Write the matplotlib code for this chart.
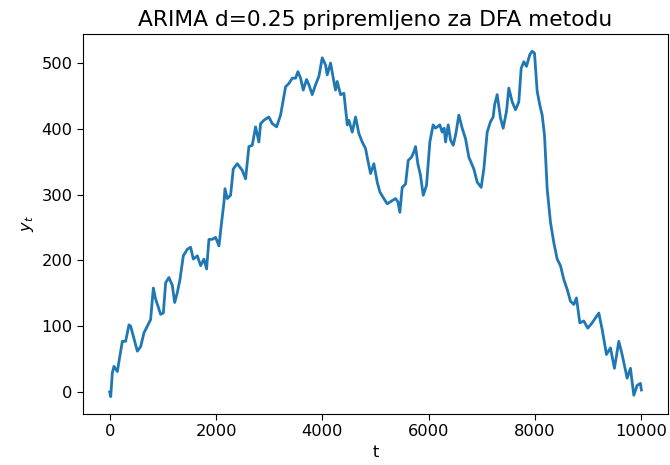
import matplotlib
matplotlib.use("Agg")
import matplotlib.pyplot as plt

# values (vertices of the trace)
t = [0, 20, 50, 81, 144, 175, 238, 300, 363, 395, 520, 583, 645, 739, 770,
     821, 865, 959, 1009, 1053, 1115, 1178, 1222, 1272, 1322, 1385, 1460,
     1522, 1573, 1648, 1711, 1773, 1823, 1867, 1930, 1992, 2055, 2105, 2149,
     2168, 2211, 2274, 2324, 2399, 2493, 2556, 2618, 2681, 2744, 2806, 2838,
     2900, 2994, 3057, 3139, 3214, 3308, 3371, 3434, 3496, 3540, 3590, 3640,
     3703, 3747, 3809, 3872, 3935, 3997, 4060, 4091, 4154, 4216, 4247, 4279,
     4342, 4405, 4468, 4499, 4561, 4624, 4686, 4749, 4812, 4855, 4906, 4968,
     5031, 5081, 5156, 5219, 5313, 5376, 5420, 5457, 5501, 5564, 5614, 5677,
     5720, 5752, 5795, 5846, 5896, 5958, 6021, 6083, 6127, 6208, 6252, 6290,
     6316, 6366, 6410, 6460, 6504, 6566, 6629, 6692, 6754, 6848, 6911, 6986,
     7036, 7099, 7162, 7212, 7237, 7287, 7350, 7400, 7463, 7506, 7569, 7632,
     7694, 7738, 7788, 7838, 7901, 7945, 7989, 8039, 8089, 8133, 8177, 8227,
     8289, 8352, 8415, 8477, 8540, 8603, 8665, 8728, 8778, 8841, 8916, 8990,
     9072, 9198, 9261, 9342, 9417, 9492, 9574, 9636, 9731, 9793, 9856, 9918,
     9981, 9999]

y_t = [0, -7, 29, 39, 31, 46, 77, 77, 102, 100, 62, 69, 90, 105, 110,
       158, 141, 118, 120, 166, 174, 162, 136, 151, 171, 207, 217,
       220, 202, 207, 192, 202, 187, 232, 232, 235, 222, 258, 288,
       309, 294, 299, 339, 347, 337, 324, 373, 375, 403, 380, 408,
       413, 418, 408, 403, 421, 464, 469, 477, 477, 487, 477, 459,
       475, 467, 452, 467, 480, 508, 497, 482, 500, 472, 459, 472,
       452, 454, 406, 413, 395, 418, 393, 380, 370, 352, 332, 347,
       319, 304, 294, 286, 291, 294, 289, 273, 311, 316, 352, 357,
       365, 373, 347, 329, 299, 314, 380, 406, 401, 406, 395, 401,
       380, 406, 383, 375, 390, 421, 401, 385, 357, 339, 319, 311,
       339, 395, 411, 418, 436, 452, 416, 401, 427, 462, 441, 429,
       441, 492, 502, 495, 513, 518, 515, 457, 436, 421, 390, 309,
       258, 227, 202, 192, 171, 156, 138, 133, 143, 105, 108, 97,
       105, 120, 95, 57, 67, 36, 77, 57, 21, 36, -5, 10,
       13, 3]

title = "ARIMA d=0.25 pripremljeno za DFA metodu"

plt.rcParams['font.size'] = 11.7
plt.rcParams['xtick.major.size'] = 4
plt.rcParams['ytick.major.size'] = 4

fig = plt.figure(figsize=(6.7, 4.65), dpi=100)
ax = fig.add_axes([0.124, 0.11, 0.873, 0.817])
ax.plot(t, y_t, color='#1f77b4', linewidth=2)
ax.set_title(title, fontsize=15.7)
ax.set_xlabel('t')
ax.set_ylabel('$y_t$')

fig.savefig('out.png', dpi=100)
